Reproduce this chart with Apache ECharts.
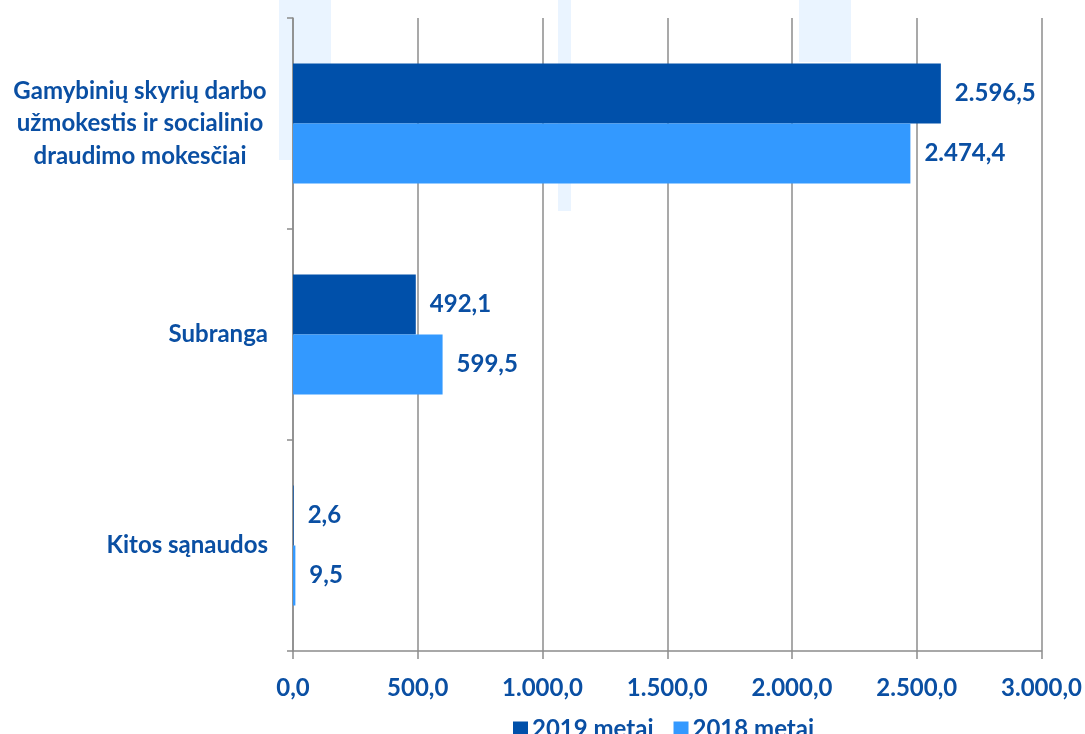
<!DOCTYPE html>
<html><head><meta charset="utf-8">
<script src="https://cdn.jsdelivr.net/npm/echarts@6/dist/echarts.min.js"></script>
<style>html,body{margin:0;padding:0;background:#fff}#c{width:1085px;height:734px}</style>
</head><body><div id="c"></div>
<script>
const categories = ["Gamybinių skyrių darbo\nužmokestis ir socialinio\ndraudimo mokesčiai", "Subranga", "Kitos sąnaudos"];
const seriesNames = ["2019 metai", "2018 metai"];
const values2019 = [2596.5, 492.1, 2.6];
const values2018 = [2474.4, 599.5, 9.5];
const xTicks = [0, 500, 1000, 1500, 2000, 2500, 3000];

const FONT = 'Lato';
const TXT = '#0A4FA3';
const FS = 24;
function fmt(v){
  const s = Number(v).toFixed(1);
  let [i, d] = s.split('.');
  i = i.replace(/\B(?=(\d{3})+(?!\d))/g, '.');
  return i + ',' + d;
}
const chart = echarts.init(document.getElementById('c'), null, {renderer:'canvas'});
const lblStyle = {show:true, position:'right', distance:14, color:TXT, fontFamily:FONT, fontWeight:'bold', fontSize:FS, formatter:p=>fmt(p.value)};
chart.setOption({
  animation:false,
  backgroundColor:'#fff',
  graphic:[
    {type:'rect', z:-10, shape:{x:279,y:0,width:52,height:160}, style:{fill:'#EAF4FF'}},
    {type:'rect', z:-10, shape:{x:558,y:0,width:13,height:211}, style:{fill:'#EAF4FF'}},
    {type:'rect', z:-10, shape:{x:799,y:0,width:52,height:62}, style:{fill:'#EAF4FF'}}
  ],
  grid:{left:293, right:42, top:18, bottom:83, containLabel:false},
  legend:{
    top:712, left:508, itemWidth:15, itemHeight:15, itemGap:20,
    icon:'rect',
    textStyle:{color:TXT, fontFamily:FONT, fontWeight:'bold', fontSize:FS, padding:[0,0,0,-1]},
    data:seriesNames
  },
  xAxis:{
    type:'value', min:xTicks[0], max:xTicks[xTicks.length-1], interval:500,
    axisLine:{show:true, lineStyle:{color:'#8c8c8c', width:1.5}},
    axisTick:{show:true, length:8, lineStyle:{color:'#8c8c8c', width:1.5}},
    splitLine:{show:true, lineStyle:{color:'#8c8c8c', width:1.5}},
    axisLabel:{margin:25, color:TXT, fontFamily:FONT, fontWeight:'bold', fontSize:FS, formatter:v=>fmt(v)}
  },
  yAxis:{
    type:'category', inverse:true, data:categories,
    axisLine:{show:true, lineStyle:{color:'#8c8c8c', width:1.5}},
    axisTick:{show:true, length:6, lineStyle:{color:'#8c8c8c', width:1.5}},
    axisLabel:{
      margin:25, color:TXT, fontFamily:FONT, fontWeight:'bold', fontSize:FS, lineHeight:32.5,
      formatter:(v,i)=> i===0 ? v.split('\n').map(l=>'{c|'+l+'}').join('\n') : v,
      rich:{c:{width:256, align:'center', color:TXT, fontFamily:FONT, fontWeight:'bold', fontSize:FS, lineHeight:32.5}}
    }
  },
  series:[
    {name:seriesNames[0], type:'bar', data:values2019, barWidth:60, barGap:'0%', itemStyle:{color:'#0050AA'}, label:lblStyle},
    {name:seriesNames[1], type:'bar', data:values2018, barWidth:60, barGap:'0%', itemStyle:{color:'#3399FF'}, label:lblStyle}
  ]
});
</script></body></html>
